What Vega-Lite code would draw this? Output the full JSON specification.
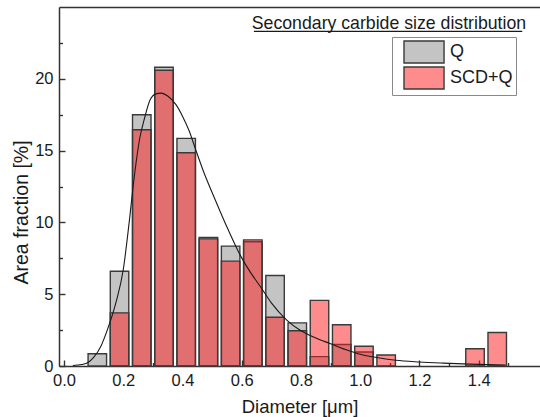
{
  "$schema": "https://vega.github.io/schema/vega-lite/v6.json",
  "width": 481,
  "height": 359,
  "autosize": {"type": "none"},
  "padding": {"left": 59, "top": 7, "right": 0, "bottom": 51},
  "background": "white",
  "config": {
    "font": "Liberation Sans",
    "view": {"stroke": null},
    "axis": {
      "grid": false,
      "domainColor": "#333333",
      "domainWidth": 1.5,
      "tickColor": "#333333",
      "tickWidth": 1.4,
      "labelColor": "#1a1a1a",
      "labelFont": "Liberation Sans",
      "labelFontSize": 16.5,
      "titleColor": "#1a1a1a",
      "titleFont": "Liberation Sans",
      "titleFontSize": 18.5,
      "titleFontWeight": "normal"
    }
  },
  "datasets": {
    "bins": [
      {"diameter": 0.1125, "series": "Q", "fraction": 0.85},
      {"diameter": 0.1875, "series": "Q", "fraction": 6.6},
      {"diameter": 0.2625, "series": "Q", "fraction": 17.5},
      {"diameter": 0.3375, "series": "Q", "fraction": 20.8},
      {"diameter": 0.4125, "series": "Q", "fraction": 15.85},
      {"diameter": 0.4875, "series": "Q", "fraction": 8.95},
      {"diameter": 0.5625, "series": "Q", "fraction": 8.35},
      {"diameter": 0.6375, "series": "Q", "fraction": 8.65},
      {"diameter": 0.7125, "series": "Q", "fraction": 6.3},
      {"diameter": 0.7875, "series": "Q", "fraction": 3.0},
      {"diameter": 0.8625, "series": "Q", "fraction": 0.65},
      {"diameter": 0.9375, "series": "Q", "fraction": 1.5},
      {"diameter": 1.0125, "series": "Q", "fraction": 0.97},
      {"diameter": 0.1875, "series": "SCD+Q", "fraction": 3.7},
      {"diameter": 0.2625, "series": "SCD+Q", "fraction": 16.45},
      {"diameter": 0.3375, "series": "SCD+Q", "fraction": 20.6},
      {"diameter": 0.4125, "series": "SCD+Q", "fraction": 14.85},
      {"diameter": 0.4875, "series": "SCD+Q", "fraction": 8.85},
      {"diameter": 0.5625, "series": "SCD+Q", "fraction": 7.3},
      {"diameter": 0.6375, "series": "SCD+Q", "fraction": 8.78},
      {"diameter": 0.7125, "series": "SCD+Q", "fraction": 3.4},
      {"diameter": 0.7875, "series": "SCD+Q", "fraction": 2.45},
      {"diameter": 0.8625, "series": "SCD+Q", "fraction": 4.57},
      {"diameter": 0.9375, "series": "SCD+Q", "fraction": 2.87},
      {"diameter": 1.0125, "series": "SCD+Q", "fraction": 1.38},
      {"diameter": 1.0875, "series": "SCD+Q", "fraction": 0.77},
      {"diameter": 1.3875, "series": "SCD+Q", "fraction": 1.2},
      {"diameter": 1.4625, "series": "SCD+Q", "fraction": 2.33}
    ],
    "fit": [
      {"diameter": 0.03, "fraction": 0.03},
      {"diameter": 0.06, "fraction": 0.1},
      {"diameter": 0.08, "fraction": 0.22},
      {"diameter": 0.1, "fraction": 0.6},
      {"diameter": 0.125, "fraction": 1.4},
      {"diameter": 0.146, "fraction": 2.5},
      {"diameter": 0.175, "fraction": 4.4},
      {"diameter": 0.2, "fraction": 6.7},
      {"diameter": 0.22, "fraction": 10.0},
      {"diameter": 0.235, "fraction": 12.8},
      {"diameter": 0.257, "fraction": 16.0},
      {"diameter": 0.27, "fraction": 17.1},
      {"diameter": 0.29, "fraction": 18.5},
      {"diameter": 0.31, "fraction": 18.95},
      {"diameter": 0.328, "fraction": 19.0},
      {"diameter": 0.35, "fraction": 18.8},
      {"diameter": 0.378, "fraction": 18.2},
      {"diameter": 0.4, "fraction": 17.4},
      {"diameter": 0.422, "fraction": 16.4},
      {"diameter": 0.444, "fraction": 15.1},
      {"diameter": 0.47, "fraction": 13.6},
      {"diameter": 0.51, "fraction": 11.6},
      {"diameter": 0.554, "fraction": 9.5},
      {"diameter": 0.598, "fraction": 7.6},
      {"diameter": 0.63, "fraction": 6.5},
      {"diameter": 0.664, "fraction": 5.5},
      {"diameter": 0.7, "fraction": 4.4},
      {"diameter": 0.752, "fraction": 3.2},
      {"diameter": 0.8, "fraction": 2.45},
      {"diameter": 0.85, "fraction": 1.95},
      {"diameter": 0.9, "fraction": 1.55},
      {"diameter": 0.95, "fraction": 1.15},
      {"diameter": 1.0, "fraction": 0.82},
      {"diameter": 1.06, "fraction": 0.58},
      {"diameter": 1.12, "fraction": 0.4},
      {"diameter": 1.2, "fraction": 0.28},
      {"diameter": 1.28, "fraction": 0.2},
      {"diameter": 1.37, "fraction": 0.13},
      {"diameter": 1.46, "fraction": 0.08},
      {"diameter": 1.49, "fraction": 0.07}
    ]
  },
  "layer": [
    {
      "data": {"name": "bins"},
      "mark": {"type": "bar", "width": 18.5, "stroke": "#3a3a3a", "strokeWidth": 1.4},
      "encoding": {
        "x": {
          "field": "diameter", "type": "quantitative",
          "scale": {"domain": [0, 1.59], "nice": false, "zero": false},
          "axis": {
            "orient": "bottom",
            "values": [0, 0.2, 0.4, 0.6, 0.8, 1.0, 1.2, 1.4],
            "format": ".1f", "tickSize": -6, "labelPadding": 12,
            "labelFlush": false, "title": "Diameter [μm]", "titlePadding": 9
          }
        },
        "y": {
          "field": "fraction", "type": "quantitative", "stack": null,
          "scale": {"domain": [0, 25], "nice": false},
          "axis": {
            "orient": "left",
            "values": [0, 5, 10, 15, 20],
            "tickSize": -6, "labelPadding": 12, "labelFlush": false,
            "title": "Area fraction [%]", "titleFontSize": 19.5,
            "titlePadding": 3, "titleY": 205
          }
        },
        "fill": {
          "field": "series", "type": "nominal",
          "scale": {"domain": ["Q", "SCD+Q"], "range": ["#c4c4c4", "#ff1a1a"]},
          "legend": {
            "title": "\u00a0\u00a0\u00a0", "titleOrient": "right", "titlePadding": 0,
            "titleFontSize": 18,
            "orient": "none", "legendX": 333, "legendY": 30,
            "strokeColor": "#8a8a8a", "padding": 3, "rowPadding": -4,
            "symbolType": "M-1,-1H2.64V1H-1Z", "symbolSize": 484, "symbolOffset": 8,
            "symbolStrokeColor": "#3a3a3a", "symbolStrokeWidth": 1.4,
            "labelFontSize": 18, "labelColor": "#1a1a1a", "labelOffset": 23,
            "encode": {
              "symbols": {
                "update": {
                  "fillOpacity": {"signal": "datum.value === 'SCD+Q' ? 0.5 : 1"}
                }
              }
            }
          }
        },
        "fillOpacity": {
          "condition": {"test": "datum.series === 'SCD+Q'", "value": 0.5},
          "value": 1
        }
      }
    },
    {
      "data": {"name": "fit"},
      "mark": {"type": "line", "color": "#1a1a1a", "strokeWidth": 1.1, "interpolate": "monotone"},
      "encoding": {
        "x": {
          "field": "diameter", "type": "quantitative",
          "scale": {"domain": [0, 1.59], "nice": false, "zero": false},
          "axis": {
            "orient": "bottom",
            "values": [0.1, 0.3, 0.5, 0.7, 0.9, 1.1, 1.3, 1.5],
            "tickSize": -3.5, "labels": false, "domain": false, "title": null
          }
        },
        "y": {
          "field": "fraction", "type": "quantitative",
          "scale": {"domain": [0, 25], "nice": false},
          "axis": {
            "orient": "left",
            "values": [2.5, 7.5, 12.5, 17.5, 22.5],
            "tickSize": -3.5, "labels": false, "domain": false, "title": null
          }
        }
      }
    },
    {
      "data": {"values": [{"caption": "Secondary carbide size distribution"}]},
      "mark": {"type": "text", "align": "right", "baseline": "alphabetic", "font": "Liberation Sans", "fontSize": 17.7, "color": "#1a1a1a"},
      "encoding": {
        "text": {"field": "caption", "type": "nominal"},
        "x": {"datum": 1.56, "type": "quantitative", "axis": null},
        "y": {"datum": 23.5, "type": "quantitative", "axis": null}
      }
    },
    {
      "data": {"values": [{"caption": "Secondary carbide size distribution"}]},
      "mark": {"type": "rule", "color": "#1a1a1a", "strokeWidth": 1.2},
      "encoding": {
        "x": {
          "datum": 0.641, "type": "quantitative",
          "axis": {"orient": "top", "ticks": false, "labels": false, "domain": true, "title": null}
        },
        "x2": {"datum": 1.547},
        "y": {"datum": 23.3, "type": "quantitative", "axis": null}
      }
    }
  ],
  "resolve": {"axis": {"x": "independent", "y": "independent"}}
}
